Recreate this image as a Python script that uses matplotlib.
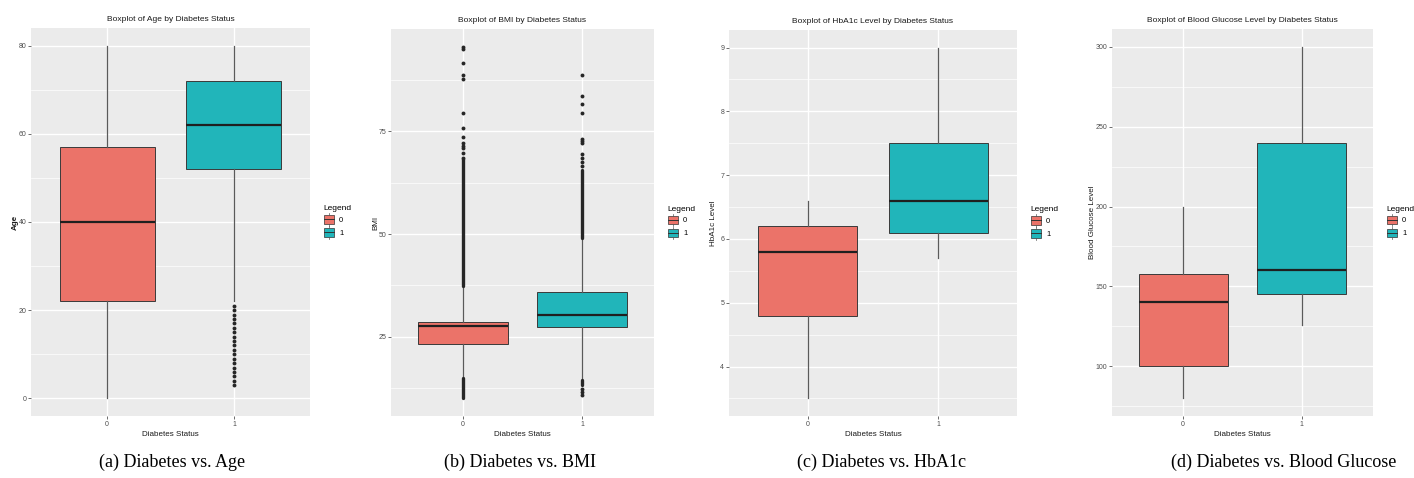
import matplotlib
matplotlib.use("Agg")
import matplotlib.pyplot as plt
import numpy as np
from matplotlib.legend_handler import HandlerBase
from matplotlib.patches import Patch, Rectangle
from matplotlib.lines import Line2D

plt.rcParams['font.family'] = ['Liberation Sans Narrow', 'Liberation Sans', 'DejaVu Sans']

# Data: five-number summaries per class (whisker low, Q1, median, Q3, whisker high)
classes = ["0", "1"]

age_stats_0 = [0, 22, 40, 57, 80]
age_stats_1 = [22, 52, 62, 72, 80]
age_out_0 = []
age_out_1 = [3, 4, 5, 6, 7, 8, 9, 10, 11, 12, 13, 14, 15, 16, 17, 18, 19, 20, 21]

bmi_stats_0 = [15.2, 23.3, 27.5, 28.7, 37.0]
bmi_stats_1 = [14.7, 27.4, 30.2, 36.0, 48.7]
bmi_out_0 = [68.6, 69.7, 70.9, 71.5, 72.1, 73.6, 75.7, 79.4, 87.6, 88.8, 91.6, 95.0, 95.6]
bmi_out_1 = [10.8, 11.5, 12.3, 66.6, 67.5, 68.4, 69.4, 72.1, 72.6, 73.1, 79.4, 81.7, 83.6, 88.6]
# runs of outliers so dense they merge into a solid column
bmi_band_0 = [(37.3, 68.2), (10.0, 15.0)]
bmi_band_1 = [(49.0, 65.6), (13.2, 14.6)]

hba1c_stats_0 = [3.5, 4.8, 5.8, 6.2, 6.6]
hba1c_stats_1 = [5.7, 6.1, 6.6, 7.5, 9.0]

glucose_stats_0 = [80, 100, 140, 158, 200]
glucose_stats_1 = [126, 145, 160, 240, 300]

titles = ["Boxplot of Age by Diabetes Status",
          "Boxplot of BMI by Diabetes Status",
          "Boxplot of HbA1c Level by Diabetes Status",
          "Boxplot of Blood Glucose Level by Diabetes Status"]
ylabels = ["Age", "BMI", "HbA1c Level", "Blood Glucose Level"]
captions = ["(a) Diabetes vs. Age", "(b) Diabetes vs. BMI",
            "(c) Diabetes vs. HbA1c", "(d) Diabetes vs. Blood Glucose"]
yticks = [[0, 20, 40, 60, 80], [25, 50, 75], [4, 5, 6, 7, 8, 9],
          [100, 150, 200, 250, 300]]

panels = [
    (age_stats_0, age_stats_1, age_out_0, age_out_1, [], []),
    (bmi_stats_0, bmi_stats_1, bmi_out_0, bmi_out_1, bmi_band_0, bmi_band_1),
    (hba1c_stats_0, hba1c_stats_1, [], [], [], []),
    (glucose_stats_0, glucose_stats_1, [], [], [], []),
]

fill_colors = ["#EB7369", "#21B5BA"]
W, H = 1414, 478
# panel rectangles in pixels: left, top, right, bottom
boxes_px = [(31, 28, 310, 416), (391, 29, 654, 416),
            (729, 30, 1017, 416), (1112, 29, 1373, 416)]
ylabel_right_px = [19, 379, 717, 1096]
caption_x_px = [172, 520, 882, 1284]


class BoxKey(HandlerBase):
    # small boxplot glyph used as the legend key
    def create_artists(self, legend, orig, xdescent, ydescent, w, h, fontsize, trans):
        x0, y0 = -xdescent, -ydescent
        fc = orig.get_facecolor()
        rect = Rectangle((x0 + 0.1 * w, y0 + 0.15 * h), 0.8 * w, 0.7 * h,
                         facecolor=fc, edgecolor="#333333", lw=0.5, transform=trans)
        med = Line2D([x0 + 0.1 * w, x0 + 0.9 * w], [y0 + 0.5 * h] * 2,
                     color="#333333", lw=0.7, transform=trans)
        top = Line2D([x0 + 0.5 * w] * 2, [y0 + 0.85 * h, y0 + h],
                     color="#555555", lw=0.5, transform=trans)
        bot = Line2D([x0 + 0.5 * w] * 2, [y0, y0 + 0.15 * h],
                     color="#555555", lw=0.5, transform=trans)
        return [rect, med, top, bot]


fig = plt.figure(figsize=(W / 100, H / 100), dpi=100)

for i, (s0, s1, out0, out1, band0, band1) in enumerate(panels):
    l, t, r, b = boxes_px[i]
    ax = fig.add_axes([l / W, 1 - b / H, (r - l) / W, (b - t) / H])
    ax.set_facecolor("#EBEBEB")
    for sp in ax.spines.values():
        sp.set_visible(False)

    stats = []
    for s, out in zip([s0, s1], [out0, out1]):
        stats.append(dict(whislo=s[0], q1=s[1], med=s[2], q3=s[3],
                          whishi=s[4], fliers=out))
    bp = ax.bxp(stats, positions=[0, 1], widths=0.75, patch_artist=True,
                showcaps=False, zorder=3,
                boxprops=dict(edgecolor="#3a3a3a", linewidth=0.7),
                medianprops=dict(color="#1f1f1f", linewidth=1.6),
                whiskerprops=dict(color="#5a5a5a", linewidth=0.9),
                flierprops=dict(marker="o", markersize=2.8, markerfacecolor="#262626",
                                markeredgecolor="none"))
    for patch, c in zip(bp["boxes"], fill_colors):
        patch.set_facecolor(c)

    for pos, bands in zip([0, 1], [band0, band1]):
        for lo, hi in bands:
            ax.plot([pos, pos], [lo, hi], color="#262626", lw=2.4,
                    solid_capstyle="round", zorder=4)

    yt = yticks[i]
    ax.set_yticks(yt)
    minors = [(a + c) / 2 for a, c in zip(yt[:-1], yt[1:])]
    step = yt[1] - yt[0]
    minors = [yt[0] - step / 2] + minors + [yt[-1] + step / 2]
    ax.set_yticks(minors, minor=True)
    ax.set_xticks([0, 1])
    ax.set_xticklabels(classes)

    # y range with ggplot-style 5% expansion
    vals = list(s0) + list(s1) + list(out0) + list(out1)
    for lo, hi in band0 + band1:
        vals += [lo, hi]
    lo, hi = min(vals), max(vals)
    pad = 0.05 * (hi - lo)
    ax.set_ylim(lo - pad, hi + pad)
    ax.set_xlim(-0.6, 1.6)

    ax.grid(True, which="major", color="white", linewidth=1.0, zorder=0)
    ax.grid(True, which="minor", axis="y", color="white", linewidth=0.5, zorder=0)
    ax.set_axisbelow(True)
    ax.tick_params(axis="both", which="major", length=2, width=0.5, color="#333333",
                   labelsize=5, labelcolor="#4D4D4D", pad=1.5)
    ax.tick_params(axis="y", which="minor", length=0)

    ax.set_title(titles[i], fontsize=6, color="#1a1a1a", pad=5)
    ax.set_xlabel("Diabetes Status", fontsize=5.8, color="#1a1a1a")
    ax.set_ylabel(ylabels[i], fontsize=5.8, color="#1a1a1a",
                  fontweight="bold" if i == 0 else "normal")
    ax.xaxis.set_label_coords(0.5, (416 - 431) / (b - t))
    ax.yaxis.set_label_coords((ylabel_right_px[i] - l) / (r - l), 0.5)

    handles = [Patch(facecolor=c) for c in fill_colors]
    ax.legend(handles, classes, title="Legend", handler_map={Patch: BoxKey()},
              loc="center left", bbox_to_anchor=(1 + 10 / (r - l), 0.5),
              borderaxespad=0, frameon=False,
              prop={"family": "Liberation Sans", "size": 5.5},
              title_fontproperties={"family": "Liberation Sans", "size": 6},
              handlelength=1.6, handleheight=2.1, handletextpad=0.5,
              labelspacing=0.1, alignment="left")

    fig.text(caption_x_px[i] / W, 1 - 462 / H, captions[i], ha="center", va="center",
             fontsize=13, family=["Liberation Serif", "DejaVu Serif"])

fig.savefig("out.png", dpi=100)
